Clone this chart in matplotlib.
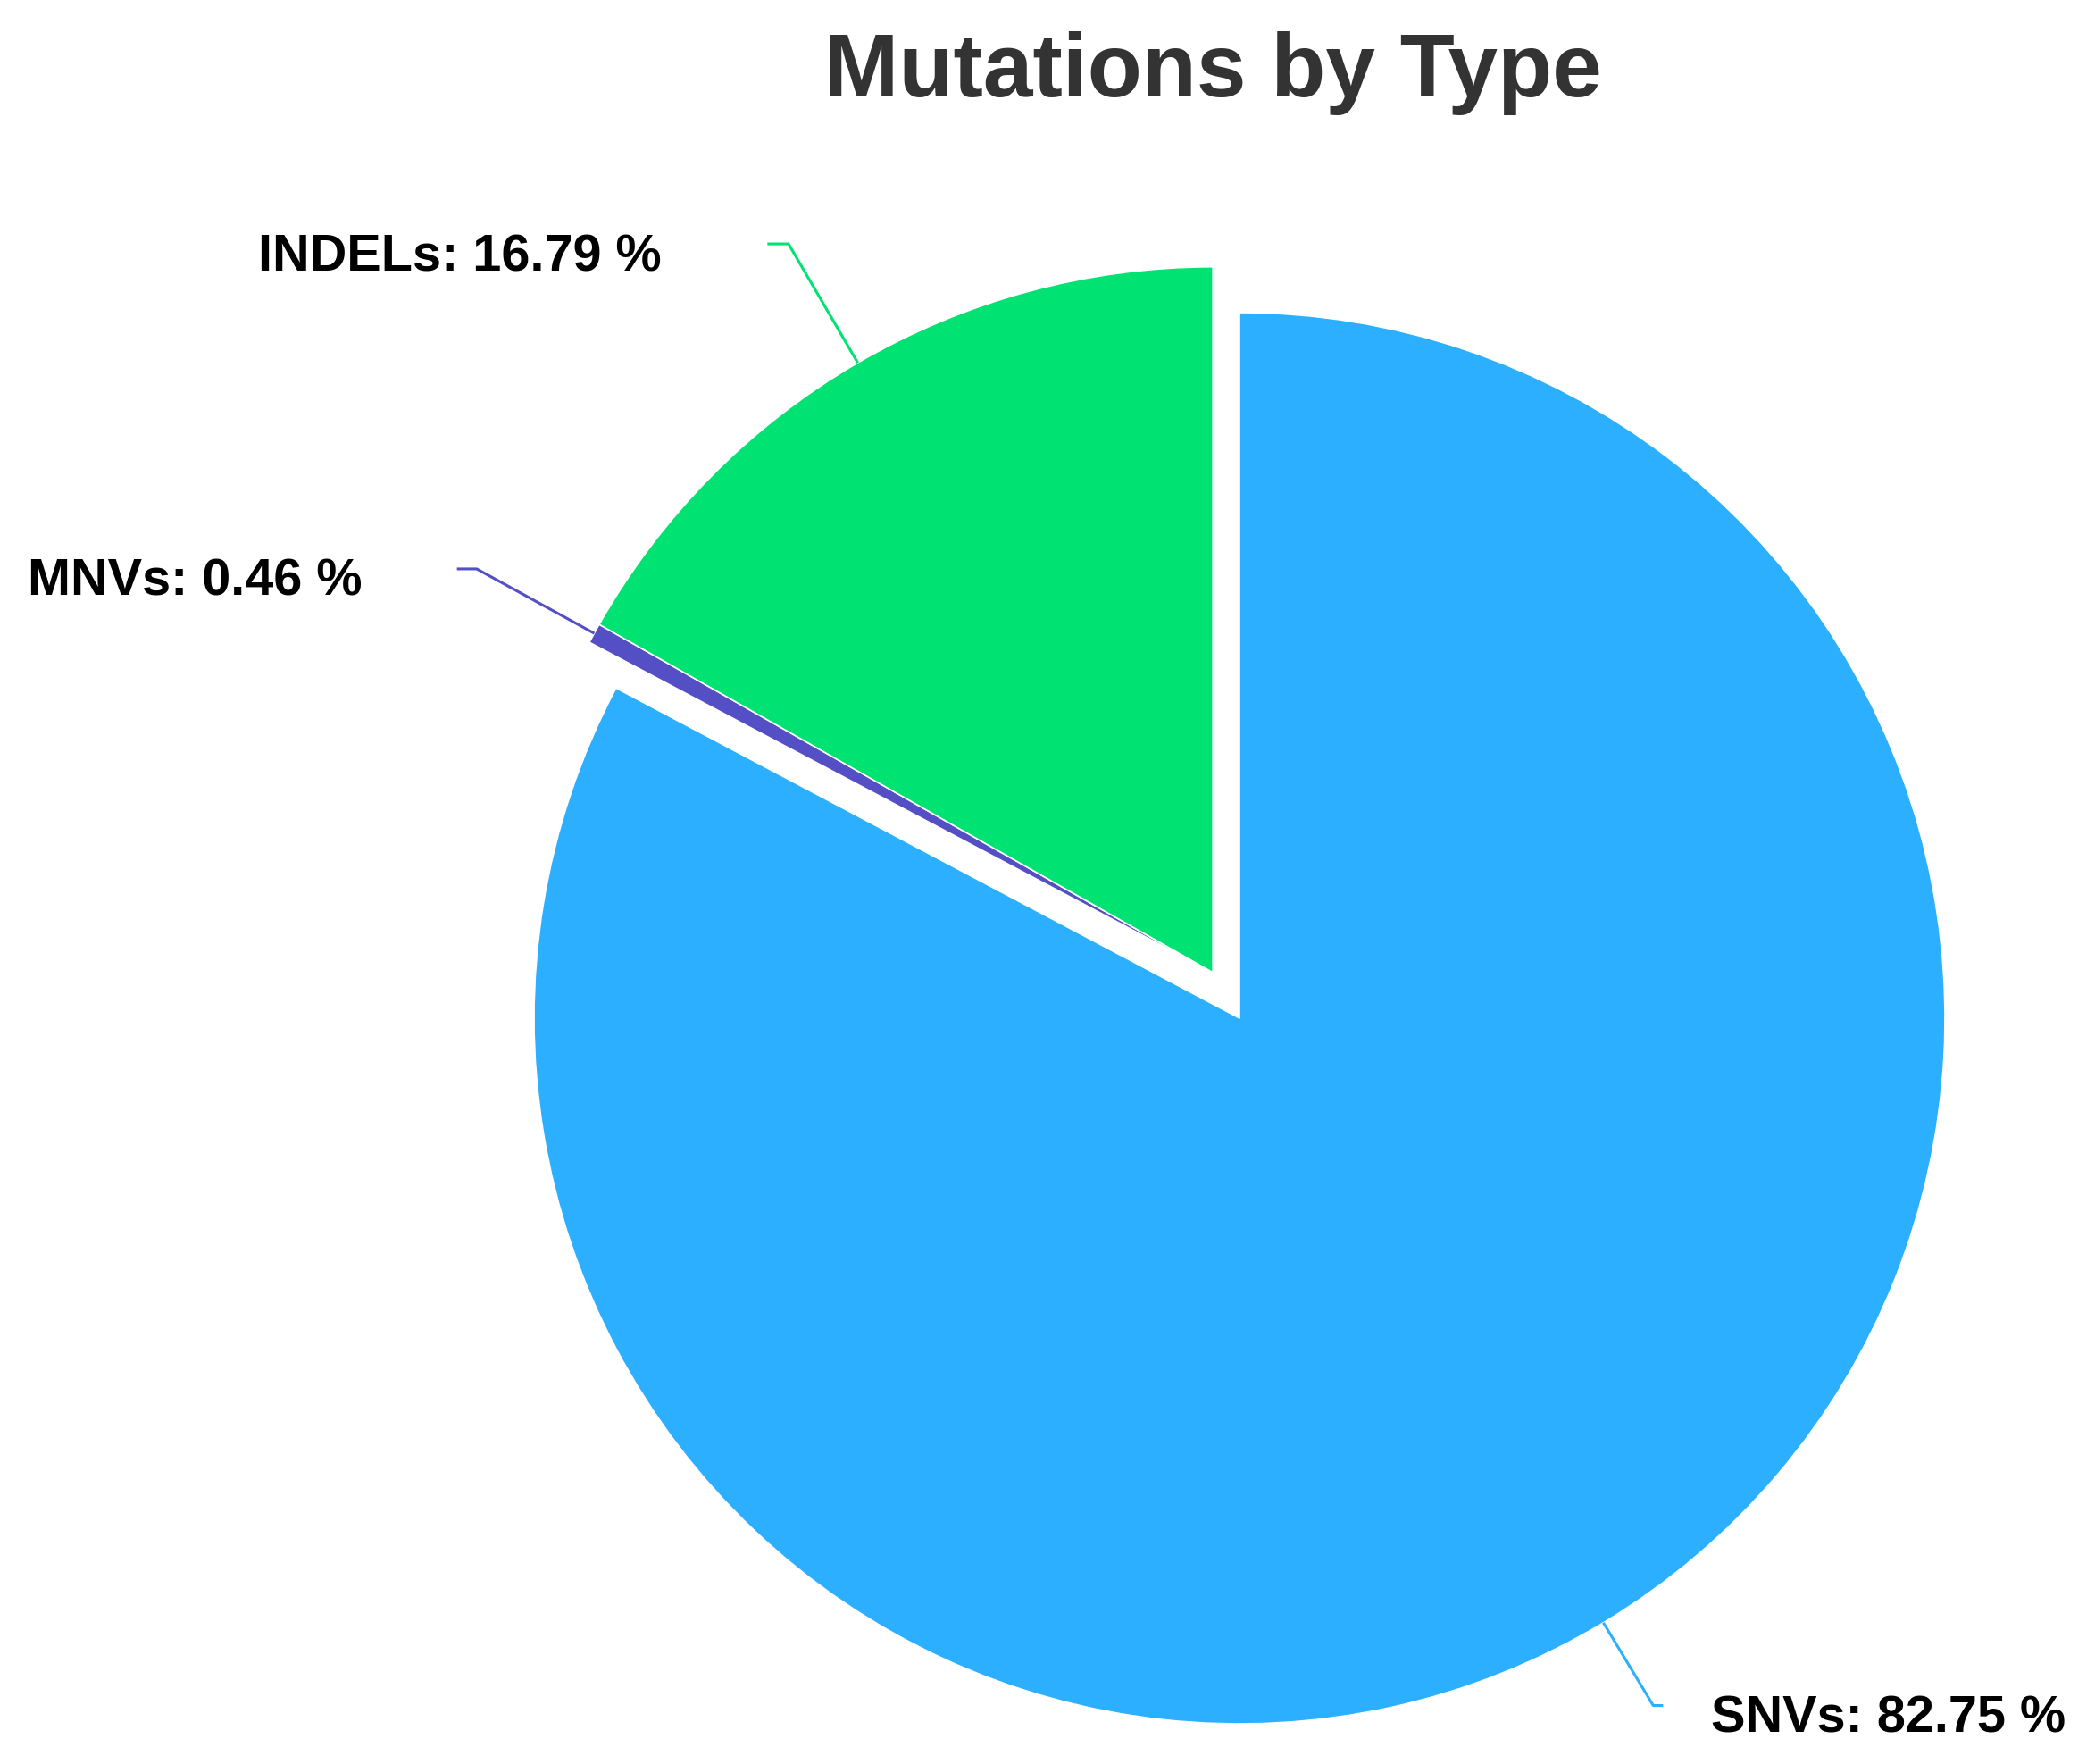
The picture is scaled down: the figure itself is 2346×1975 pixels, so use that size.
import numpy as np
import matplotlib.pyplot as plt

# data
types = ["SNVs", "MNVs", "INDELs"]
shares = [82.75, 0.46, 16.79]
colors = ["#2caffe", "#544fc5", "#00e272"]
explode = [0, 0, 0.075]

# connector layout per slice: elbow radius, horizontal run, gap before the text
elbow_r = [1.137, 1.19, 1.195]
run = [0.014, 0.028, 0.03]
gap = [0.068, 0.135, 0.15]

W, H = 2346, 1975
R_PX = 790          # pie radius in pixels
cx, cy = 1388, 1140  # pie centre in pixels (from top-left)

plt.rcParams['font.family'] = ['Liberation Sans', 'DejaVu Sans']

fig = plt.figure(figsize=(W / 100, H / 100), dpi=100)
ax = fig.add_axes([0, 0, 1, 1])

wedges, _ = ax.pie(shares, colors=colors, startangle=90, counterclock=False,
                   explode=explode, radius=1, center=(0, 0),
                   wedgeprops=dict(linewidth=1.2, edgecolor='white',
                                   joinstyle='round'))
# the thin MNVs slice moves out together with INDELs
wedges[1].set_center(wedges[2].center)

ax.set_xlim(-cx / R_PX, (W - cx) / R_PX)
ax.set_ylim(-(H - cy) / R_PX, cy / R_PX)
ax.set_aspect('equal')
ax.axis('off')

for i, w in enumerate(wedges):
    mid = np.deg2rad((w.theta1 + w.theta2) / 2)
    ux, uy = np.cos(mid), np.sin(mid)
    x0, y0 = w.center
    side = 1 if ux > 0 else -1
    ex, ey = x0 + elbow_r[i] * ux, y0 + elbow_r[i] * uy
    hx = ex + side * run[i]
    ax.plot([x0 + w.r * ux, ex, hx], [y0 + w.r * uy, ey, ey],
            color=colors[i], lw=2.2, solid_capstyle='butt')
    ax.text(hx + side * gap[i], ey - 0.038, f"{types[i]}: {shares[i]:.2f} %",
            ha='left' if side > 0 else 'right', va='baseline',
            fontsize=41.5, fontweight='bold', color='black')

fig.text(0.579, 1 - 108 / H, "Mutations by Type", ha='center', va='baseline',
         fontsize=72, fontweight='bold', color='#333333')

fig.savefig('out.png', dpi=100)
